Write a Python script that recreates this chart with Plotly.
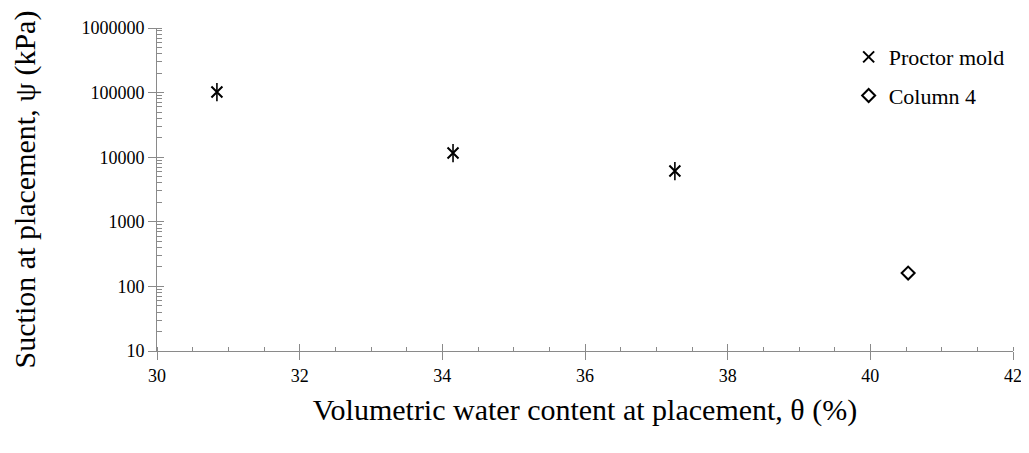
import plotly.graph_objects as go

proctor_theta = [30.84, 34.15, 37.26]
proctor_psi = [102000, 11600, 6100]
column_theta = [40.53]
column_psi = [161]

y_tickvals = [10, 100, 1000, 10000, 100000, 1000000]
y_ticktext = ["10", "100", "1000", "10000", "100000", "1000000"]
x_tickvals = [30, 32, 34, 36, 38, 40, 42]

FONT = "Liberation Serif"
AX = "#8a8a8a"

fig = go.Figure()
fig.add_trace(go.Scatter(x=proctor_theta, y=proctor_psi, mode="markers", name="Proctor mold",
                         legendgroup="a",
                         marker=dict(symbol="x-thin-open", size=11, color="black",
                                     line=dict(color="black", width=2))))
fig.add_trace(go.Scatter(x=proctor_theta, y=proctor_psi, mode="markers", name="Proctor mold",
                         legendgroup="a", showlegend=False,
                         marker=dict(symbol="line-ns-open", size=13, color="black",
                                     line=dict(color="black", width=1.6))))
fig.add_trace(go.Scatter(x=column_theta, y=column_psi, mode="markers", name="Column 4",
                         legendgroup="b",
                         marker=dict(symbol="diamond-open", size=10, color="black",
                                     line=dict(color="black", width=2))))
# overlay axes carrying the inside half of the crossing major ticks
fig.add_trace(go.Scatter(x=[30], y=[10], xaxis="x2", yaxis="y2", mode="markers",
                         marker=dict(opacity=0), showlegend=False, hoverinfo="skip"))

fig.update_layout(
    width=1021, height=445,
    margin=dict(l=149, r=16, t=20, b=102),
    paper_bgcolor="white", plot_bgcolor="white",
    font=dict(family=FONT, color="black", size=18),
    showlegend=True,
    legend=dict(x=0.808, y=0.975, xanchor="left", yanchor="top",
                font=dict(family=FONT, size=22), tracegroupgap=7,
                bgcolor="rgba(0,0,0,0)", itemwidth=30),
    xaxis=dict(range=[30, 42], tickvals=x_tickvals, ticks="outside", ticklen=8,
               tickcolor=AX, tickwidth=1, showline=True, linecolor=AX, linewidth=1,
               showgrid=False, zeroline=False, tickfont=dict(size=18, family=FONT),
               automargin=False,
               minor=dict(dtick=0.5, ticks="inside", ticklen=4, tickcolor=AX, showgrid=False),
               title=dict(text="Volumetric water content at placement, θ (%)",
                          font=dict(size=30, family=FONT), standoff=14)),
    yaxis=dict(type="log", range=[1, 6], tickvals=y_tickvals, ticktext=y_ticktext,
               ticks="outside", ticklen=8, tickcolor=AX, tickwidth=1,
               showline=True, linecolor=AX, linewidth=1, showgrid=False, zeroline=False,
               tickfont=dict(size=18, family=FONT), automargin=False,
               minor=dict(dtick="D1", ticks="inside", ticklen=5, tickcolor=AX, showgrid=False),
               title=dict(text="Suction at placement, ψ (kPa)",
                          font=dict(size=30, family=FONT), standoff=36)),
    xaxis2=dict(overlaying="x", matches="x", range=[30, 42], tickvals=x_tickvals,
                ticks="inside", ticklen=7, tickcolor=AX, showticklabels=False,
                showgrid=False, zeroline=False, showline=False, automargin=False),
    yaxis2=dict(overlaying="y", type="log", range=[1, 6], tickvals=y_tickvals,
                ticks="inside", ticklen=7, tickcolor=AX, showticklabels=False,
                showgrid=False, zeroline=False, showline=False, automargin=False),
)

fig.write_html("out.html")
